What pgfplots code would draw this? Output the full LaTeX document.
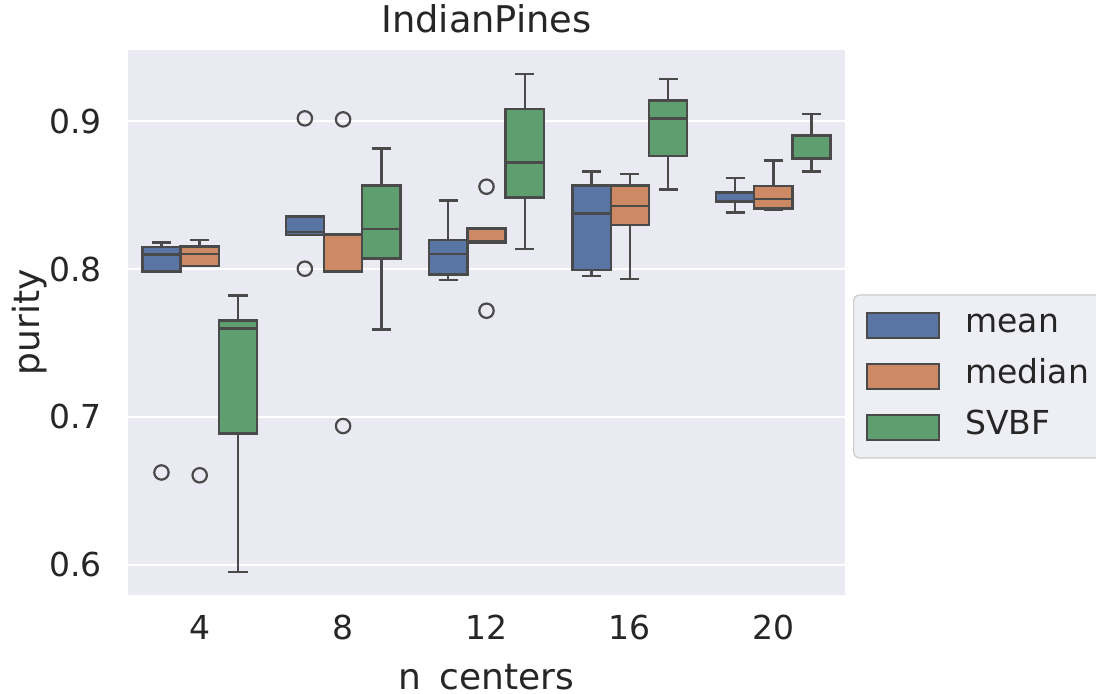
\documentclass[border=0pt]{standalone}
\usepackage{fontspec}
\setmainfont{DejaVu Sans}
\usepackage{pgfplots}
\pgfplotsset{compat=1.18}
\usepgfplotslibrary{statistics}

\definecolor{bg}{HTML}{EAEAF2}
\definecolor{txt}{HTML}{262626}
\definecolor{lc}{HTML}{4A4A4A}
\definecolor{cmean}{HTML}{5975A4}
\definecolor{cmedian}{HTML}{CC8963}
\definecolor{csvbf}{HTML}{5F9E6E}
\definecolor{legfill}{HTML}{EEEEF5}
\definecolor{legedge}{HTML}{CCCCCC}

% one box: position, lower whisker, lower quartile, median, upper quartile, upper whisker, fill, outliers
\newcommand{\bx}[8]{%
  \addplot[forget plot,
    boxplot prepared={draw position=#1, lower whisker=#2, lower quartile=#3,
      median=#4, upper quartile=#5, upper whisker=#6,
      box extend=0.2667, whisker extend=0.1333, draw direction=y},
    draw=lc, fill=#7, line width=1.2pt,
    mark=o, mark size=3.6pt, mark options={draw=lc, fill=none, line width=1.1pt}]
    coordinates {#8};}

\newcommand{\legpatch}[1]{%
  \addlegendimage{legend image code/.code={%
    \draw[sharp corners, draw=lc, fill=#1, line width=1.1pt] (0pt,-6.25pt) rectangle (36pt,6.25pt);
    \path (49pt,0pt);}}}

\begin{document}
\begin{tikzpicture}[every node/.append style={text=txt}]
\begin{axis}[
  scale only axis,
  width=358.5pt, height=272.5pt,
  xmin=-0.5, xmax=4.5,
  ymin=0.5797, ymax=0.948,
  axis background/.style={fill=bg},
  axis line style={draw=none},
  major tick length=0pt,
  ymajorgrids,
  grid style={white, line width=1pt},
  xtick={0,1,2,3,4},
  xticklabels={4,8,12,16,20},
  ytick={0.6,0.7,0.8,0.9},
  yticklabel style={/pgf/number format/fixed, /pgf/number format/precision=1,
    /pgf/number format/fixed zerofill, inner sep=0pt, anchor=east, xshift=-13pt},
  xticklabel style={inner sep=0pt, anchor=base, yshift=-22.5pt},
  /pgf/number format/assume math mode=true,
  tick label style={font=\fontsize{16.5}{20}\selectfont, text=txt},
  label style={font=\fontsize{18}{21}\selectfont, text=txt},
  title style={font=\fontsize{18.4}{21}\selectfont, text=txt, at={(0.5,1)}, anchor=base, yshift=2.5pt, inner sep=0pt},
  title={IndianPines},
  xlabel={n\_centers},
  ylabel={purity},
  xlabel style={at={(axis description cs:0.5,0)}, anchor=base, yshift=-47.5pt, inner sep=0pt},
  ylabel style={at={(axis description cs:-0.1367,0.5)}, anchor=center, rotate=0, inner sep=0pt},
  legend cell align=left,
  legend style={at={(axis description cs:1.0112,0.401)}, anchor=west,
    draw=legedge, fill=legfill, line width=0.6pt, rounded corners=3pt,
    font=\fontsize{16.5}{20}\selectfont, text=txt,
    inner xsep=6pt, inner ysep=7pt, row sep=9pt,
    nodes={inner sep=0pt, text height=12pt, text depth=4.5pt}},
]
% n_centers = 4
\bx{-0.2667}{0.7984}{0.7984}{0.8099}{0.8147}{0.8178}{cmean}{(0,0.6625)}
\bx{0}{0.8022}{0.8022}{0.8101}{0.8153}{0.8196}{cmedian}{(0,0.6606)}
\bx{0.2667}{0.5951}{0.6887}{0.7599}{0.7651}{0.7822}{csvbf}{}
% n_centers = 8
\bx{0.7333}{0.8230}{0.8230}{0.8252}{0.8356}{0.8356}{cmean}{(1,0.9018) (1,0.8002)}
\bx{1}{0.7982}{0.7982}{0.8228}{0.8232}{0.8232}{cmedian}{(1,0.9011) (1,0.6939)}
\bx{1.2667}{0.7592}{0.8072}{0.8272}{0.8565}{0.8813}{csvbf}{}
% n_centers = 12
\bx{1.7333}{0.7924}{0.7964}{0.8103}{0.8196}{0.8462}{cmean}{}
\bx{2}{0.8176}{0.8176}{0.8185}{0.8275}{0.8275}{cmedian}{(2,0.8556) (2,0.7718)}
\bx{2.2667}{0.8137}{0.8484}{0.8721}{0.9081}{0.9318}{csvbf}{}
% n_centers = 16
\bx{2.7333}{0.7953}{0.7993}{0.8376}{0.8563}{0.8658}{cmean}{}
\bx{3}{0.7932}{0.8297}{0.8426}{0.8563}{0.8640}{cmedian}{}
\bx{3.2667}{0.8536}{0.8764}{0.9018}{0.9140}{0.9282}{csvbf}{}
% n_centers = 20
\bx{3.7333}{0.8383}{0.8451}{0.8460}{0.8518}{0.8615}{cmean}{}
\bx{4}{0.8399}{0.8410}{0.8473}{0.8561}{0.8732}{cmedian}{}
\bx{4.2667}{0.8658}{0.8748}{0.8899}{0.8905}{0.9049}{csvbf}{}

\legpatch{cmean}\addlegendentry{mean}
\legpatch{cmedian}\addlegendentry{median}
\legpatch{csvbf}\addlegendentry{SVBF}
\end{axis}
\pgfresetboundingbox
\useasboundingbox ([xshift=-64pt,yshift=-49.5pt]current axis.south west)
  rectangle ([xshift=125.5pt,yshift=25pt]current axis.north east);
\end{tikzpicture}
\end{document}
